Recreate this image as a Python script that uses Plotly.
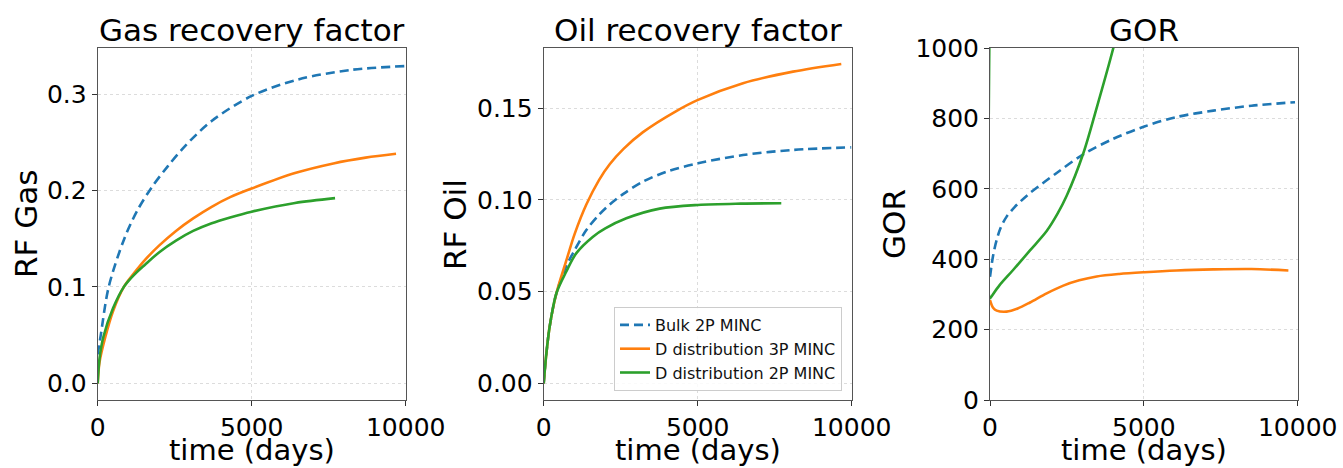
import plotly.graph_objects as go

# ---------------- data ----------------
series_names = ["Bulk 2P MINC", "D distribution 3P MINC", "D distribution 2P MINC"]
tick_x = [0, 5000, 10000]

# Gas recovery factor
gas_bulk_t = [0, 50, 100, 357, 864, 1300, 1750, 2273, 2835, 3700, 5000, 6500, 8234, 10000]
gas_bulk_v = [0.03, 0.04, 0.05, 0.100, 0.150, 0.180, 0.203, 0.225, 0.246, 0.272, 0.298, 0.315, 0.325, 0.329]
gas_d3_t = [0, 60, 248, 500, 850, 1200, 1536, 2000, 2542, 3100, 3701, 4300, 5000, 6406, 7651, 8700, 9686]
gas_d3_v = [0.0, 0.022, 0.048, 0.075, 0.100, 0.115, 0.128, 0.143, 0.158, 0.171, 0.183, 0.193, 0.202, 0.218, 0.228, 0.234, 0.238]
gas_d2_t = [0, 60, 183, 500, 850, 1200, 1536, 2000, 2542, 3100, 3701, 4300, 5000, 6406, 7706]
gas_d2_v = [0.0, 0.026, 0.048, 0.078, 0.100, 0.113, 0.123, 0.136, 0.148, 0.158, 0.166, 0.172, 0.178, 0.187, 0.192]

# Oil recovery factor
oil_bulk_t = [0, 85, 194, 410, 735, 1000, 1384, 1800, 2143, 2600, 3224, 4000, 5010, 6471, 8094, 9987]
oil_bulk_v = [0.0, 0.016, 0.031, 0.049, 0.064, 0.0725, 0.0836, 0.092, 0.0975, 0.1035, 0.110, 0.1155, 0.120, 0.1245, 0.1273, 0.1287]
oil_d3_t = [0, 85, 194, 410, 735, 1006, 1384, 1800, 2143, 2600, 3224, 4305, 5010, 6471, 8094, 9662]
oil_d3_v = [0.0, 0.016, 0.031, 0.049, 0.067, 0.0815, 0.0975, 0.111, 0.1195, 0.128, 0.137, 0.1485, 0.1546, 0.1637, 0.170, 0.1742]
oil_d2_t = [0, 85, 194, 410, 735, 1060, 1601, 2000, 2683, 3766, 5010, 6400, 7714]
oil_d2_v = [0.0, 0.016, 0.031, 0.049, 0.061, 0.071, 0.080, 0.0845, 0.090, 0.0953, 0.0973, 0.098, 0.0982]

# GOR
gor_bulk_t = [0, 100, 217, 350, 541, 800, 1000, 1300, 2167, 3033, 4008, 5016, 6066, 7259, 8500, 9913]
gor_bulk_v = [350, 410, 455, 490, 521, 548, 565, 588, 645, 698, 742, 777, 804, 822, 836, 846]
gor_d3_t = [0, 100, 217, 541, 900, 1300, 1842, 2383, 2900, 3467, 4200, 5016, 6066, 7259, 8500, 9697]
gor_d3_v = [284, 262, 254, 251, 260, 277, 303, 325, 340, 351, 358, 363, 368, 371, 372, 368]
gor_d2_t = [0, 0, 20, 300, 758, 1300, 1842, 2200, 2492, 3033, 3467, 4008, 4200]
gor_d2_v = [1200, 289, 291, 325, 370, 425, 480, 530, 580, 701, 830, 1000, 1070]

colors = ["#1f77b4", "#ff7f0e", "#2ca02c"]
dashes = ["9px,5px", "solid", "solid"]

W, H = 1343, 468
FONT = "DejaVu Sans"

def px_x(p):
    return p / W

def px_y(p):
    return (H - p) / H

fig = go.Figure()

panels = [
    ("x", "y", [(gas_bulk_t, gas_bulk_v), (gas_d3_t, gas_d3_v), (gas_d2_t, gas_d2_v)], False),
    ("x2", "y2", [(oil_bulk_t, oil_bulk_v), (oil_d3_t, oil_d3_v), (oil_d2_t, oil_d2_v)], True),
    ("x3", "y3", [(gor_bulk_t, gor_bulk_v), (gor_d3_t, gor_d3_v), (gor_d2_t, gor_d2_v)], False),
]

for xa, ya, data, show_leg in panels:
    for i, (t, v) in enumerate(data):
        fig.add_trace(go.Scatter(
            x=t, y=v, mode="lines", xaxis=xa, yaxis=ya,
            name=series_names[i], showlegend=show_leg,
            line=dict(color=colors[i], width=2.6, dash=dashes[i], shape="spline", smoothing=0.9),
        ))

# panel pixel extents
xdoms = [(97.7, 405.7), (543.7, 851.7), (990, 1297.7)]
ydom = [px_y(400), px_y(48)]

axis_common = dict(
    showline=True, linecolor="#555555", linewidth=1, mirror=True,
    showgrid=True, gridcolor="#dcdcdc", gridwidth=1, griddash="dot",
    ticks="outside", ticklen=5, tickcolor="#333333", tickwidth=1,
    tickfont=dict(family=FONT, size=25, color="black"),
    zeroline=False, automargin=False,
)

layout = dict(
    width=W, height=H, margin=dict(l=0, r=0, t=0, b=0, autoexpand=False),
    plot_bgcolor="white", paper_bgcolor="white",
    font=dict(family=FONT, color="black"),
)

yranges = [[-0.0173, 0.3477], [-0.0091, 0.1829], [0, 1000]]
ytickvals = [[0.0, 0.1, 0.2, 0.3], [0.0, 0.05, 0.10, 0.15], [0, 200, 400, 600, 800, 1000]]
yfmts = [".1f", ".2f", "d"]

for k in range(3):
    sx = "xaxis" if k == 0 else f"xaxis{k+1}"
    sy = "yaxis" if k == 0 else f"yaxis{k+1}"
    anchor_y = "y" if k == 0 else f"y{k+1}"
    anchor_x = "x" if k == 0 else f"x{k+1}"
    layout[sx] = dict(axis_common, domain=[px_x(xdoms[k][0]), px_x(xdoms[k][1])],
                      range=[0, 10000], tickvals=tick_x, tickformat="d", anchor=anchor_y)
    layout[sy] = dict(axis_common, domain=ydom, range=yranges[k],
                      tickvals=ytickvals[k], tickformat=yfmts[k], anchor=anchor_x)

fig.update_layout(**layout)

fig.update_layout(legend=dict(
    x=px_x(842), y=px_y(391), xanchor="right", yanchor="bottom",
    bgcolor="rgba(255,255,255,0.85)", bordercolor="#cccccc", borderwidth=1,
    font=dict(family=FONT, size=16, color="#111111"),
))

titles = ["Gas recovery factor", "Oil recovery factor", "GOR"]
ylabels = ["RF Gas", "RF Oil", "GOR"]
ylabel_x = [26, 455, 894]
annots = []
for k in range(3):
    cx = (xdoms[k][0] + xdoms[k][1]) / 2
    annots.append(dict(text=titles[k], x=px_x(cx), y=px_y(50), xref="paper", yref="paper",
                       xanchor="center", yanchor="bottom", showarrow=False,
                       font=dict(family=FONT, size=31, color="black")))
    annots.append(dict(text="time (days)", x=px_x(cx), y=px_y(450), xref="paper", yref="paper",
                       xanchor="center", yanchor="middle", showarrow=False,
                       font=dict(family=FONT, size=29, color="black")))
    annots.append(dict(text=ylabels[k], x=px_x(ylabel_x[k]), y=px_y(224), xref="paper", yref="paper",
                       xanchor="center", yanchor="middle", showarrow=False, textangle=-90,
                       font=dict(family=FONT, size=31, color="black")))
fig.update_layout(annotations=annots)

fig.write_html("out.html")
